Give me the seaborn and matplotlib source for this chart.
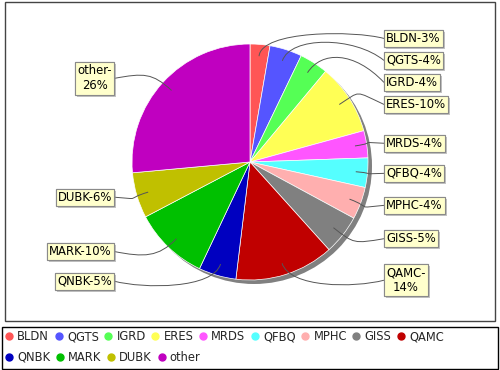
import numpy as np
import matplotlib
matplotlib.use("Agg")
import matplotlib.pyplot as plt
import matplotlib.patheffects as pe
from matplotlib.lines import Line2D
from matplotlib.patches import Circle, Rectangle, PathPatch
from matplotlib.path import Path
import seaborn as sns

# slice data, clockwise from 12 o'clock
names = ['BLDN', 'QGTS', 'IGRD', 'ERES', 'MRDS', 'QFBQ', 'MPHC',
         'GISS', 'QAMC', 'QNBK', 'MARK', 'DUBK', 'other']
shares = [2.7, 4.4, 3.9, 9.6, 3.7, 4.0, 4.4, 5.4, 13.5, 5.1, 10.2, 6.2, 26.3]
wrapped = ['QAMC', 'other']
slice_colors = ['#FF5555', '#5555FF', '#55FF55', '#FFFF55', '#FF55FF',
                '#55FFFF', '#FFAFAF', '#808080', '#C00000', '#0000C0',
                '#00C000', '#C0C000', '#C000C0']
legend_rows = [names[:9], names[9:]]

sns.set_style('white')
plt.rcParams['font.family'] = ['DejaVu Sans']
palette = sns.color_palette(slice_colors)

fig = plt.figure(figsize=(5, 3.7), dpi=100)
ax = fig.add_axes([0, 0, 1, 1])

# pixel-like coordinates, y pointing up
cx, cy, R = 250, 208, 118
ax.add_patch(Circle((cx + 4, cy - 4), R, color='#808080', lw=0, zorder=0))
wedges, _ = ax.pie(shares, colors=palette, startangle=90, counterclock=False,
                   center=(cx, cy), radius=R, frame=True,
                   wedgeprops=dict(edgecolor='white', linewidth=0.5))

total = sum(shares)
right, left = [], []
for w, name, v in zip(wedges, names, shares):
    mid = np.deg2rad((w.theta1 + w.theta2) / 2)
    pct = f"{100 * v / total:.0f}%"
    text = f"{name}-\n{pct}" if name in wrapped else f"{name}-{pct}"
    item = dict(mid=mid, text=text, lines=text.count('\n') + 1,
                y=cy + 124 * np.sin(mid))
    (right if np.cos(mid) >= 0 else left).append(item)


def spread(items, gap=22):
    # push overlapping labels downwards
    items.sort(key=lambda d: -d['y'])
    for prev, cur in zip(items, items[1:]):
        need = gap + 6.5 * (prev['lines'] - 1 + cur['lines'] - 1)
        if prev['y'] - cur['y'] < need:
            cur['y'] = prev['y'] - need


spread(right)
spread(left)

for items, side, edge_x in [(right, 1, 384), (left, -1, 114)]:
    for it in items:
        c, s = np.cos(it['mid']), np.sin(it['mid'])
        p0 = (cx + 0.9 * R * c, cy + 0.9 * R * s)
        p1 = (cx + 1.12 * R * c, cy + 1.12 * R * s)
        p2 = (edge_x - side * 30, p1[1])
        p3 = (edge_x, it['y'])
        path = Path([p0, p1, p2, p3],
                    [Path.MOVETO, Path.CURVE4, Path.CURVE4, Path.CURVE4])
        ax.add_patch(PathPatch(path, fc='none', ec='#555555', lw=0.7, zorder=3))
        t = ax.text(edge_x + side * 2, it['y'], it['text'],
                    ha='left' if side > 0 else 'right', va='center',
                    multialignment='center', fontsize=8.4, color='black',
                    zorder=5,
                    bbox=dict(boxstyle='square,pad=0.18', fc='#FFFFCC',
                              ec='#8a8a8a', lw=0.8))
        t.get_bbox_patch().set_path_effects(
            [pe.withSimplePatchShadow(offset=(1.5, -1.5),
                                      shadow_rgbFace='0.55', alpha=0.5),
             pe.Normal()])

# plot border and legend border
ax.add_patch(Rectangle((5, 49), 490, 319, fill=False, ec='#444444', lw=1, zorder=6))
ax.add_patch(Rectangle((2, 1), 496, 42, fill=False, ec='black', lw=1, zorder=6))

ax.set_xlim(0, 500)
ax.set_ylim(0, 370)
ax.set_axis_off()

# legend laid out as two flowing rows
color_of = dict(zip(names, palette))
for row, y in zip(legend_rows, [33.0, 12.5]):
    handles = [Line2D([], [], marker='o', linestyle='', markersize=5,
                      markerfacecolor=color_of[n], markeredgecolor=color_of[n])
               for n in row]
    fig.legend(handles, row, ncol=len(row), loc='center left',
               bbox_to_anchor=(5 / 500, y / 370), frameon=False,
               fontsize=8.3, borderpad=0, borderaxespad=0,
               handlelength=0.7, handletextpad=0.37, columnspacing=0.47)

fig.savefig('out.png', dpi=100, facecolor='white')
